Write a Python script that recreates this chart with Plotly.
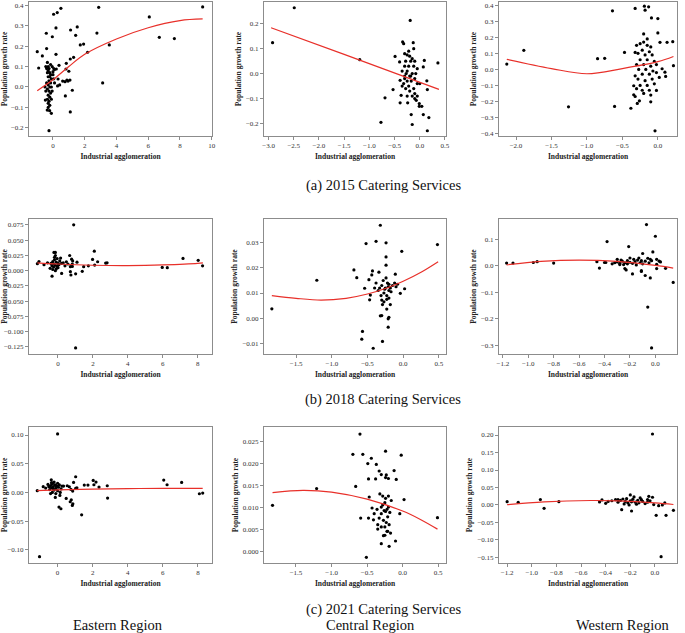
import plotly.graph_objects as go

W, H = 685, 633

# ---------------- data ----------------
# scatter points as (industrial agglomeration, population growth rate)
east_2015 = [(-0.99,0.173),(-0.9,0.093),(-0.67,0.152),(-0.42,0.263),(-0.40,0.188),(0.04,0.356),(0.27,0.364),(0.5,0.385),
             (-0.04,0.246),(0.19,0.289),(0.19,0.16),(1.11,0.279),(1.43,0.253),(1.53,0.294),(1.72,0.206),(1.93,0.21),
             (2.18,0.17),(2.77,0.264),(2.88,0.39),(3.55,0.206),(3.13,0.02),(6.07,0.343),(6.7,0.243),(7.65,0.237),(9.43,0.392),
             (1.3,0.145),(1.09,0.137),(0.84,0.116),(0.82,0.088),(1.0,0.077),(0.88,0.034),(0.76,0.026),(0.61,0.029),(0.95,0.029),
             (1.07,0.034),(1.22,-0.016),(0.78,-0.044),(1.09,-0.122),(0.38,0.106),(0.32,0.039),(0.42,0.01),(0.29,0.005),(0.1,0.086),
             (0.21,0.088),(0.0,0.075),(-0.25,-0.214),(-0.1,-0.129),(-0.21,-0.116),(-0.36,-0.113),(-0.48,-0.064),
             (-0.35,0.12),(-0.3,0.1),(-0.4,0.09),(-0.25,0.09),(-0.3,0.08),(-0.2,0.07),(-0.35,0.07),(-0.15,0.06),(-0.3,0.05),
             (-0.2,0.05),(-0.1,0.04),(-0.25,0.03),(-0.4,0.02),(-0.15,0.02),(-0.3,0.01),(-0.2,0.0),(-0.1,0.0),(-0.35,-0.01),
             (-0.25,-0.02),(-0.45,-0.02),(-0.15,-0.03),(-0.3,-0.04),(-0.2,-0.05),(-0.35,-0.06),(-0.25,-0.07),(-0.3,-0.08),
             (-0.2,-0.09),(-0.3,-0.1),(0.05,0.04),(0.1,0.02),(-0.05,0.1),(0.05,0.09),(-0.45,0.1),(-0.5,0.0),(-0.05,-0.02),
             (-0.1,-0.06),(0.0,0.06),(-0.15,0.11)]
central_2015 = [(-2.92,0.124),(-2.49,0.264),(-1.19,0.056),(-0.77,-0.195),(-0.69,-0.097),(-0.53,-0.064),(-0.19,0.213),(0.36,0.043),
                (-0.39,-0.117),(-0.24,-0.117),(-0.17,-0.164),(-0.15,-0.204),(0.15,-0.229),(0.07,-0.164),(0.18,-0.176),(-0.01,-0.131),
                (0.04,-0.131),(-0.07,-0.107),(-0.01,-0.12),(-0.49,0.069),(-0.34,0.127),(-0.32,0.12),(-0.13,0.124),(0.09,0.053),
                (0.07,0.027),(0.14,-0.029),(0.15,-0.064),(-0.37,-0.087),(-0.39,-0.027),(-0.4,0.047),
                (-0.3,0.08),(-0.25,0.075),(-0.2,0.07),(-0.15,0.06),(-0.28,0.05),(-0.18,0.05),(-0.1,0.05),(-0.3,0.03),(-0.22,0.03),
                (-0.12,0.03),(-0.05,0.02),(-0.35,0.01),(-0.25,0.01),(-0.15,0.0),(-0.2,-0.01),(-0.3,-0.01),(-0.1,-0.02),(-0.25,-0.03),
                (-0.17,-0.03),(-0.32,-0.04),(-0.05,-0.04),(-0.22,-0.05),(-0.12,-0.06),(-0.28,-0.06),(-0.2,-0.07),(-0.1,-0.08),
                (-0.25,-0.09),(-0.15,-0.09),(-0.3,-0.02),(-0.27,0.0),(-0.08,0.0),(-0.18,-0.01),(-0.22,0.09),(-0.12,0.1),(0.0,-0.04),
                (-0.35,-0.05),(-0.1,-0.1),(-0.05,-0.09)]
western_2015 = [(-2.13,0.033),(-1.89,0.119),(-1.26,-0.233),(-0.85,0.067),(-0.75,0.069),(-0.64,0.365),(-0.61,-0.231),(-0.47,0.106),
                (-0.38,-0.242),(-0.32,0.38),(-0.19,0.394),(-0.18,0.369),(-0.13,0.39),(-0.09,0.321),(0.0,0.317),(-0.04,-0.383),
                (0.0,0.227),(0.03,0.169),(0.13,0.169),(0.21,0.173),(0.22,0.023),(-0.32,0.106),(-0.34,-0.102),(-0.34,-0.158),
                (-0.32,-0.169),(-0.29,-0.212),(-0.26,-0.196),(-0.1,-0.202),(-0.02,-0.131),(0.06,0.004),(0.1,-0.017),(0.11,-0.044),
                (-0.2,0.221),(-0.15,0.19),
                (-0.3,0.15),(-0.25,0.16),(-0.2,0.17),(-0.15,0.15),(-0.1,0.14),(-0.22,0.12),(-0.12,0.11),(-0.28,0.1),(-0.18,0.09),
                (-0.08,0.09),(-0.25,0.06),(-0.15,0.06),(-0.05,0.05),(-0.3,0.03),(-0.2,0.03),(-0.1,0.02),(-0.27,0.0),(-0.17,0.0),
                (-0.07,-0.01),(-0.32,-0.04),(-0.22,-0.03),(-0.12,-0.03),(-0.02,-0.02),(-0.28,-0.06),(-0.18,-0.07),(-0.08,-0.06),
                (-0.25,-0.1),(-0.15,-0.1),(-0.05,-0.09),(-0.22,-0.13),(-0.12,-0.13),(-0.3,-0.12),(-0.02,0.03),(0.02,-0.05),
                (-0.1,-0.16),(-0.2,-0.15)]
east_2018 = [(0.9,0.0753),(1.01,-0.1266),(-1.18,0.0115),(-1.09,0.015),(-0.34,-0.009),(-0.23,0.030),(-0.15,0.030),(0.67,0.025),
             (0.71,0.0066),(0.74,-0.007),(0.71,-0.0016),(1.01,-0.005),(1.09,0.014),(1.39,-0.001),(1.47,0.0066),(1.74,0.008),
             (1.98,0.0186),(2.08,0.032),(2.1,0.0093),(2.27,0.0147),(2.73,0.0126),(2.81,0.013),(5.97,0.0055),(6.26,0.005),
             (7.16,0.0202),(8.03,0.017),(8.28,0.008),(0.15,0.0207),(0.21,-0.0044),(0.48,0.0147),(0.4,0.008),(0.57,0.011),
             (0.78,0.019),(0.84,0.016),(0.82,0.011),(0.82,0.007),
             (-0.4,0.012),(-0.3,0.015),(-0.2,0.018),(-0.1,0.014),(0.0,0.012),(-0.35,0.008),(-0.25,0.006),(-0.15,0.009),
             (-0.05,0.007),(-0.45,0.004),(-0.3,0.002),(-0.1,0.003),(0.05,0.01),(0.1,0.016),(-0.2,0.022),(-0.15,0.025),
             (-0.25,0.011),(-0.05,0.02),(0.2,0.012),(0.3,0.013),(-0.6,0.013),(-0.8,0.01),(-0.15,0.0),(0.0,0.005)]
central_2018 = [(-1.84,0.0037),(-1.21,0.0151),(-0.32,0.037),(-0.52,0.0297),(-0.38,0.0306),(-0.24,0.030),(-0.02,0.0266),(0.48,0.0293),
                (-0.69,0.0192),(-0.65,0.0161),(-0.24,0.0244),(-0.24,0.0211),(-0.43,0.0188),(-0.34,0.0183),(-0.44,0.0172),
                (-0.48,0.0153),(-0.54,0.0119),(-0.46,0.0092),(-0.47,0.0073),(-0.11,0.0175),(-0.04,0.0099),(0.02,0.0117),
                (-0.57,-0.0053),(-0.58,-0.0084),(-0.42,-0.012),(-0.29,-0.0093),(-0.21,-0.0036),(-0.32,0.0009),(-0.30,0.001),
                (-0.2,0.0003),(-0.21,-0.0003),(-0.23,0.0036),(-0.18,0.0054),(-0.29,0.0054),(-0.3,0.0072),
                (-0.3,0.013),(-0.25,0.012),(-0.22,0.014),(-0.2,0.011),(-0.27,0.01),(-0.23,0.009),(-0.18,0.012),(-0.15,0.013),
                (-0.12,0.014),(-0.33,0.012),(-0.28,0.015),(-0.24,0.016),(-0.2,0.0135),(-0.26,0.0115),(-0.21,0.0125),(-0.35,0.011),
                (-0.38,0.014),(-0.31,0.009),(-0.17,0.0105),(-0.1,0.0125),(-0.23,0.0075),(-0.27,0.0065),(-0.2,0.008),(-0.08,0.0135),
                (-0.4,0.012)]
western_2018 = [(-1.17,0.011),(-1.12,0.011),(-0.96,0.013),(-0.93,0.016),(-0.8,0.011),(-0.46,0.016),(-0.44,-0.008),(-0.38,0.092),
                (-0.21,0.073),(-0.07,0.156),(0.0,0.112),(-0.02,0.053),(-0.1,0.047),(-0.06,-0.155),(-0.03,-0.309),(0.14,-0.062),
                (-0.04,-0.045),(-0.08,-0.036),(-0.18,-0.03),(-0.23,-0.015),(-0.24,-0.01),(-0.11,-0.018),(-0.11,-0.021),
                (-0.06,0.029),(-0.04,0.025),(-0.03,0.02),(0.01,0.025),(0.01,0.006),(0.03,0.018),(0.04,0.015),(0.08,-0.009),
                (0.01,-0.01),(-0.4,0.013),(-0.39,0.013),(-0.34,0.008),
                (-0.32,0.012),(-0.3,0.015),(-0.28,0.01),(-0.26,0.018),(-0.24,0.012),(-0.22,0.02),(-0.2,0.014),(-0.18,0.01),
                (-0.16,0.016),(-0.14,0.022),(-0.12,0.012),(-0.1,0.008),(-0.08,0.018),(-0.3,0.025),(-0.25,0.005),(-0.2,0.03),
                (-0.15,0.004),(-0.13,0.03),(-0.22,0.008),(-0.17,0.025),(-0.27,0.022),(-0.05,0.012),(-0.28,0.005),(-0.11,0.02)]
east_2021 = [(-1.03,-0.112),(0.0,0.102),(-1.16,0.003),(-0.82,0.01),(-0.68,0.0076),(0.08,-0.0256),(0.19,-0.0285),(1.37,-0.039),
             (1.03,0.0273),(0.91,0.0174),(0.87,-0.0198),(0.84,-0.0227),(0.78,-0.0128),(0.72,-0.0163),(0.49,-0.0105),
             (0.13,-0.0052),(-0.13,-0.0087),(1.1,0.0081),(1.03,0.007),(1.52,0.0128),(1.73,0.0128),(2.03,0.0209),(2.07,0.0134),
             (2.19,0.018),(2.36,0.0093),(2.83,0.0116),(2.85,-0.0099),(6.05,0.0215),(6.24,0.0134),(7.07,0.0174),(8.08,-0.0023),
             (8.27,-0.0012),(-0.36,0.0221),(-0.27,0.0163),(-0.11,0.0122),(0.55,0.0116),(0.34,0.011),(0.67,0.0099),(0.76,0.0052),
             (0.86,0.0023),
             (-0.45,0.005),(-0.4,0.012),(-0.35,0.008),(-0.3,0.015),(-0.25,0.01),(-0.2,0.004),(-0.15,0.013),(-0.1,0.007),
             (-0.05,0.011),(0.0,0.003),(0.05,0.009),(0.1,0.013),(-0.3,0.0),(-0.2,0.018),(-0.4,-0.002),(-0.1,-0.002),(0.2,0.006),
             (0.25,0.011),(-0.5,0.01),(0.0,0.016),(-0.35,0.017),(0.15,0.0),(-0.55,0.014),(-0.25,0.006)]
central_2021 = [(-1.83,0.0104),(-1.21,0.0142),(-0.6,0.0266),(-0.7,0.022),(-0.56,0.022),(-0.24,0.0227),(-0.02,0.0218),(-0.44,0.0211),
                (-0.37,0.0197),(-0.49,0.0199),(-0.33,0.0182),(-0.12,0.0183),(-0.66,0.0147),(-0.48,0.0164),(-0.38,0.0164),
                (-0.09,0.0163),(0.49,0.0076),(0.02,0.0117),(-0.04,0.0085),(-0.59,0.0075),(-0.48,0.0075),(-0.51,-0.0014),
                (-0.3,0.0017),(-0.19,0.0011),(-0.1,0.0023),(-0.25,0.0036),(-0.17,0.0041),(-0.21,0.0045),(-0.35,0.005),
                (-0.47,0.0123),(-0.43,0.0098),(-0.41,0.0071),(-0.23,0.0173),(-0.2,0.0165),(-0.3,0.0174),(-0.24,0.0167),
                (-0.32,0.013),(-0.28,0.0125),(-0.25,0.011),(-0.22,0.0095),(-0.24,0.009),(-0.26,0.0092),(-0.2,0.01),(-0.3,0.0085),
                (-0.33,0.0075),(-0.27,0.007),(-0.23,0.0065),(-0.19,0.006),(-0.35,0.006),(-0.3,0.0055),(-0.25,0.0055),
                (-0.21,0.0078),(-0.18,0.0088),(-0.16,0.0115),(-0.28,0.0105),(-0.24,0.012),(-0.2,0.0125),(-0.36,0.0095),
                (-0.22,0.0045),(-0.27,0.0035),(-0.4,0.0085),(-0.3,0.01)]
western_2021 = [(-1.2,0.0095),(-1.11,0.0076),(-0.93,0.0153),(-0.9,-0.0095),(-0.78,0.0095),(-0.45,0.0086),(-0.43,0.0143),(-0.4,0.0048),
                (-0.02,0.203),(0.05,-0.148),(0.09,-0.0296),(0.15,-0.0153),(0.01,-0.0296),(-0.2,0.0286),(-0.17,0.0229),
                (-0.27,-0.0134),(-0.19,-0.0172),(-0.06,0.0153),(-0.05,0.0248),(-0.02,0.022),(0.08,0.0057),(0.06,0.0),
                (0.03,-0.002),(-0.01,0.001),
                (-0.38,0.01),(-0.35,0.012),(-0.32,0.015),(-0.3,0.008),(-0.28,0.013),(-0.26,0.017),(-0.24,0.01),(-0.22,0.006),
                (-0.2,0.012),(-0.18,0.016),(-0.16,0.008),(-0.14,0.013),(-0.12,0.02),(-0.1,0.01),(-0.08,0.004),(-0.06,0.008),
                (-0.04,0.012),(-0.25,0.003),(-0.21,0.0),(-0.15,0.002),(-0.11,0.015),(-0.3,0.015),(-0.19,0.009),(-0.13,0.006),
                (-0.23,0.018)]

# fitted (red) curves read at several x positions
fit_east_2015_x = [-0.99, 0, 1, 2, 4, 6, 8, 9.43]
fit_east_2015_y = [-0.018, 0.035, 0.1, 0.16, 0.235, 0.29, 0.325, 0.333]
fit_central_2015_x = [-2.95, -1.5, 0.38]
fit_central_2015_y = [0.184, 0.077, -0.063]
fit_western_2015_x = [-2.13, -1.5, -1.0, -0.5, 0.0, 0.22]
fit_western_2015_y = [0.063, 0.005, -0.027, 0.005, 0.048, 0.08]
fit_east_2018_x = [-1.18, 0, 2, 4, 6, 8, 8.3]
fit_east_2018_y = [0.013, 0.011, 0.009, 0.0085, 0.0095, 0.012, 0.013]
fit_central_2018_x = [-1.84, -1.5, -1.15, -0.8, -0.5, -0.2, 0.0, 0.25, 0.49]
fit_central_2018_y = [0.0090, 0.0079, 0.0072, 0.0079, 0.0096, 0.0123, 0.0147, 0.0183, 0.0225]
fit_western_2018_x = [-1.17, -0.9, -0.6, -0.3, 0.0, 0.14]
fit_western_2018_y = [0.004, 0.017, 0.022, 0.017, 0.002, -0.008]
fit_east_2021_x = [-1.16, 0, 2, 4, 6, 8.27]
fit_east_2021_y = [0.003, 0.0045, 0.0058, 0.0066, 0.0071, 0.0072]
fit_central_2021_x = [-1.83, -1.4, -1.0, -0.5, 0.0, 0.25, 0.49]
fit_central_2021_y = [0.0133, 0.0138, 0.0134, 0.0118, 0.0091, 0.0072, 0.005]
fit_western_2021_x = [-1.2, -0.9, -0.52, -0.3, 0.0, 0.15]
fit_western_2021_y = [0.001, 0.0091, 0.0128, 0.0116, 0.0059, 0.0013]

captions = ["(a) 2015 Catering Services", "(b) 2018 Catering Services", "(c) 2021 Catering Services"]
regions = ["Eastern Region", "Central Region", "Western Region"]
x_title = "Industrial agglomeration"
y_title = "Population growth rate"

# ---------------- layout helpers ----------------
col_px = [(29, 212), (264, 446), (499, 677)]
row_px = [(2, 136), (219, 354), (427, 563)]

panels = [
    (east_2015, fit_east_2015_x, fit_east_2015_y, [-1.51, 10.02], [-0.24, 0.416], dict(dtick=2, tickformat="d"), dict(dtick=0.1, tickformat=".1f")),
    (central_2015, fit_central_2015_x, fit_central_2015_y, [-3.09, 0.52], [-0.25, 0.287], dict(dtick=0.5, tickformat=".1f"), dict(dtick=0.1, tickformat=".1f")),
    (western_2015, fit_western_2015_x, fit_western_2015_y, [-2.24, 0.27], [-0.415, 0.42], dict(dtick=0.5, tickformat=".1f"), dict(dtick=0.1, tickformat=".1f")),
    (east_2018, fit_east_2018_x, fit_east_2018_y, [-1.66, 8.82], [-0.1365, 0.0848], dict(dtick=2, tickformat="d"), dict(dtick=0.025, tickformat=".3f")),
    (central_2018, fit_central_2018_x, fit_central_2018_y, [-1.95, 0.60], [-0.0143, 0.0395], dict(dtick=0.5, tickformat=".1f"), dict(dtick=0.01, tickformat=".2f")),
    (western_2018, fit_western_2018_x, fit_western_2018_y, [-1.23, 0.17], [-0.332, 0.177], dict(dtick=0.2, tickformat=".1f"), dict(dtick=0.1, tickformat=".1f")),
    (east_2021, fit_east_2021_x, fit_east_2021_y, [-1.63, 8.8], [-0.123, 0.114], dict(dtick=2, tickformat="d"), dict(dtick=0.05, tickformat=".2f")),
    (central_2021, fit_central_2021_x, fit_central_2021_y, [-1.95, 0.61], [-0.0027, 0.0282], dict(dtick=0.5, tickformat=".1f"), dict(dtick=0.005, tickformat=".3f")),
    (western_2021, fit_western_2021_x, fit_western_2021_y, [-1.266, 0.179], [-0.166, 0.223], dict(dtick=0.2, tickformat=".1f"), dict(dtick=0.05, tickformat=".2f")),
]

FONT = "Liberation Serif"
AX_COLOR = "#8c8c8c"

fig = go.Figure()
layout = {}
for i, (pts, fx, fy, xr, yr, xt, yt) in enumerate(panels):
    r, c = divmod(i, 3)
    n = i + 1
    xs = [p[0] for p in pts]
    ys = [p[1] for p in pts]
    xa = "x" if n == 1 else f"x{n}"
    ya = "y" if n == 1 else f"y{n}"
    fig.add_trace(go.Scatter(x=xs, y=ys, mode="markers", xaxis=xa, yaxis=ya,
                             marker=dict(color="black", size=3.2), showlegend=False, hoverinfo="skip"))
    fig.add_trace(go.Scatter(x=fx, y=fy, mode="lines", xaxis=xa, yaxis=ya, line_shape="spline",
                             line=dict(color="#e8302a", width=1.2), showlegend=False, hoverinfo="skip"))
    x0, x1 = col_px[c]
    y0, y1 = row_px[r]
    common = dict(showline=True, mirror=True, linecolor=AX_COLOR, linewidth=1,
                  ticks="outside", ticklen=3, tickcolor=AX_COLOR, tickwidth=1,
                  showgrid=False, zeroline=False, automargin=False,
                  tickfont=dict(family=FONT, size=7, color="#333"))
    layout["xaxis" if n == 1 else f"xaxis{n}"] = dict(
        domain=[x0 / W, x1 / W], range=xr, anchor=ya, tick0=0,
        title=dict(text=f"<b>{x_title}</b>", font=dict(family=FONT, size=7.5, color="#222"), standoff=4),
        **xt, **common)
    layout["yaxis" if n == 1 else f"yaxis{n}"] = dict(
        domain=[1 - y1 / H, 1 - y0 / H], range=yr, anchor=xa, tick0=0,
        title=dict(text=f"<b>{y_title}</b>", font=dict(family=FONT, size=7.5, color="#222"), standoff=3),
        **yt, **common)

annotations = []
for txt, ypx in zip(captions, [186, 399, 609]):
    annotations.append(dict(text=txt, x=383 / W, y=1 - ypx / H, xref="paper", yref="paper",
                            showarrow=False, xanchor="center", yanchor="middle",
                            font=dict(family=FONT, size=14.5, color="#111")))
for txt, xpx in zip(regions, [118, 370, 622]):
    annotations.append(dict(text=txt, x=xpx / W, y=1 - 625 / H, xref="paper", yref="paper",
                            showarrow=False, xanchor="center", yanchor="middle",
                            font=dict(family=FONT, size=14.5, color="#111")))

fig.update_layout(width=W, height=H, margin=dict(l=0, r=0, t=0, b=0),
                  paper_bgcolor="white", plot_bgcolor="white",
                  annotations=annotations, **layout)
fig.write_html("out.html", config={"displayModeBar": False},
               post_script="document.body.style.margin='0px';document.body.style.overflow='hidden';")
